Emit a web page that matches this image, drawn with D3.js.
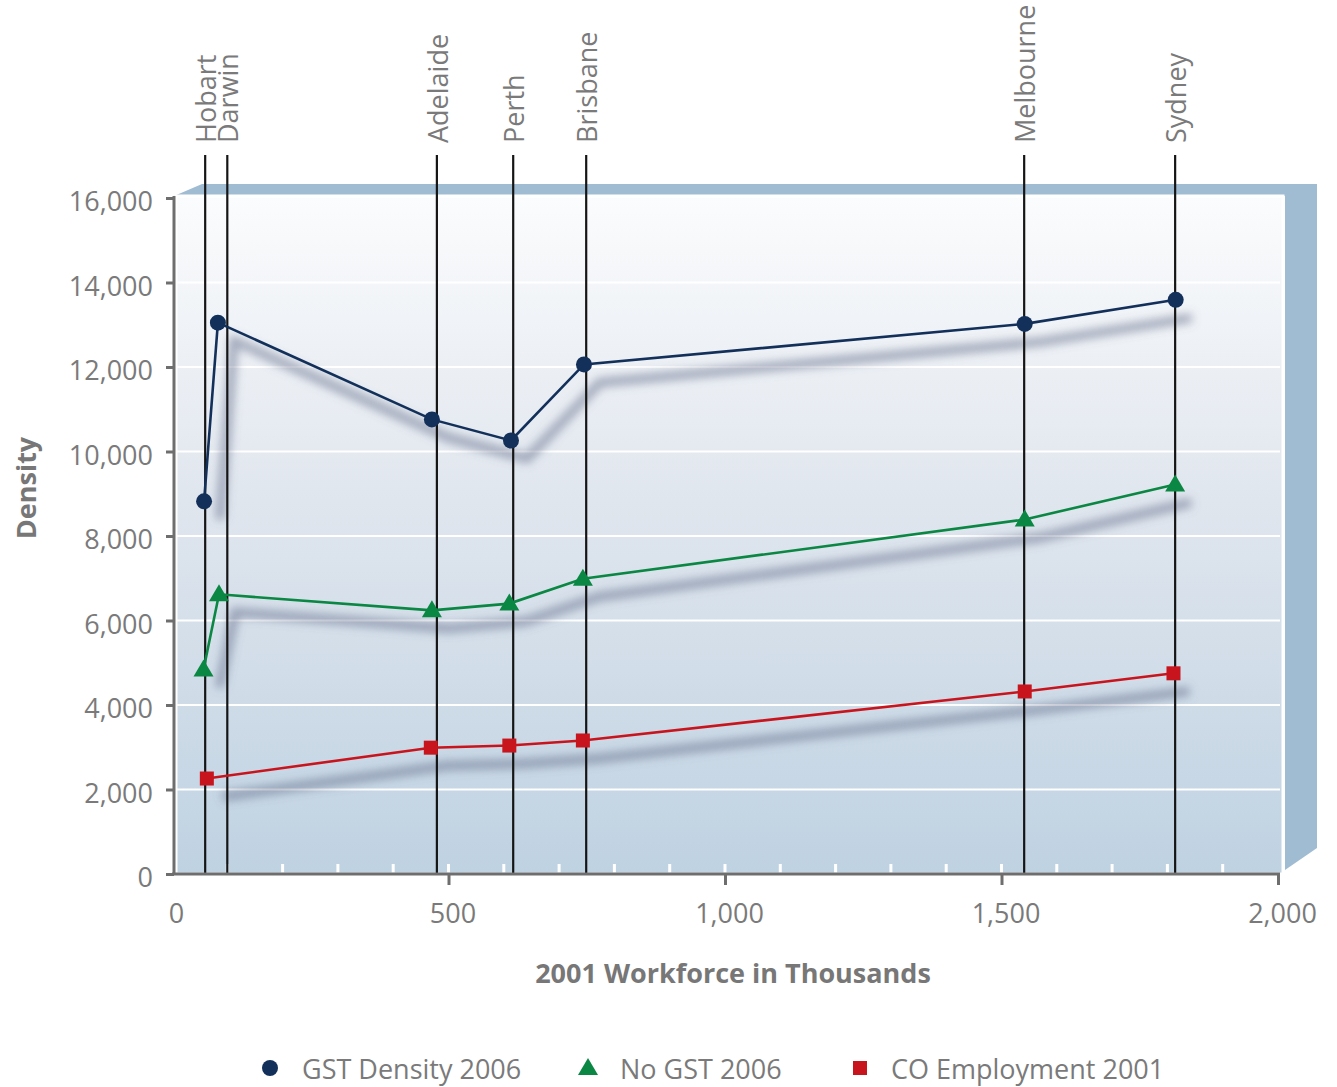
<!DOCTYPE html>
<html><head><meta charset="utf-8">
<script src="https://cdn.jsdelivr.net/npm/d3@7"></script>
<style>body{margin:0;background:#fff}svg{display:block}text{font-family:"Open Sans",Lato,sans-serif}</style>
</head><body><svg id="c" width="1337" height="1087"></svg>
<script>
const cities = ["Hobart","Darwin","Adelaide","Perth","Brisbane","Melbourne","Sydney"];
const cityX = [60, 100, 479, 617, 749, 1541, 1814];
const gstX = [58, 83, 470, 613, 745, 1542, 1815];
const gstY = [8820, 13050, 10760, 10260, 12060, 13020, 13590];
const noX = [57, 85, 470, 610, 743, 1542, 1814];
const noY = [4840, 6620, 6240, 6400, 6990, 8390, 9220];
const coX = [63, 468, 610, 743, 1542, 1811];
const coY = [2260, 2990, 3040, 3160, 4320, 4750];
const xTicks = [0, 500, 1000, 1500, 2000];
const yTicks = [0, 2000, 4000, 6000, 8000, 10000, 12000, 14000, 16000];
const legendLabels = ["GST Density 2006", "No GST 2006", "CO Employment 2001"];

const svg = d3.select("#c");
const x = d3.scaleLinear().domain([0, 2000]).range([172, 1278]);
const y = d3.scaleLinear().domain([0, 16000]).range([874, 198]);
const L = 176, R = 1283, T = 196, B = 874;

const defs = svg.append("defs");
const g = defs.append("linearGradient").attr("id","wall").attr("x1",0).attr("y1",0).attr("x2",0).attr("y2",1);
g.append("stop").attr("offset","0%").attr("stop-color","#fbfcfd");
g.append("stop").attr("offset","45%").attr("stop-color","#e0e6ee");
g.append("stop").attr("offset","100%").attr("stop-color","#bfd2e2");
defs.append("filter").attr("id","blur").attr("x","-20%").attr("y","-20%").attr("width","140%").attr("height","140%")
  .append("feGaussianBlur").attr("stdDeviation",5);

// 3D frame
svg.append("polygon").attr("points",[[174,T],[202,184],[1317,184],[1317,848],[R+2,870],[R+2,T]].map(p=>p.join(",")).join(" "))
  .attr("fill","#a0bcd3");
svg.append("rect").attr("x",L).attr("y",T).attr("width",R-L).attr("height",B-T).attr("fill","url(#wall)")
  .attr("stroke","#fff").attr("stroke-width",3);

// gridlines
svg.append("g").selectAll("line").data(yTicks.slice(1,-1)).join("line")
  .attr("x1",L).attr("x2",R-3).attr("y1",d=>y(d)).attr("y2",d=>y(d)).attr("stroke","#fff").attr("stroke-width",2);

// minor white ticks
svg.append("g").selectAll("line").data(d3.range(100,2000,100)).join("line")
  .attr("x1",d=>x(d)).attr("x2",d=>x(d)).attr("y1",B-10).attr("y2",B).attr("stroke","#fff").attr("stroke-width",3);

// shadows
const series = [
  {xs:gstX, ys:gstY, color:"#13305a", shape:"circle"},
  {xs:noX, ys:noY, color:"#0a8743", shape:"tri"},
  {xs:coX, ys:coY, color:"#c8151d", shape:"sq"}
];
const line = d3.line().x(d=>x(d[0])).y(d=>y(d[1]));
const sh = svg.append("g").attr("transform","translate(16,18)").attr("filter","url(#blur)");
series.forEach(s=>{
  sh.append("path").attr("d",line(d3.zip(s.xs,s.ys))).attr("fill","none")
    .attr("stroke","#5e6a86").attr("stroke-opacity",0.55).attr("stroke-width",9);
});

// city lines
svg.append("g").selectAll("line").data(cityX).join("line")
  .attr("x1",d=>x(d)).attr("x2",d=>x(d)).attr("y1",155).attr("y2",B).attr("stroke","#151515").attr("stroke-width",2.2);
svg.append("g").selectAll("text").data(cities).join("text")
  .attr("transform",(d,i)=>`translate(${x(cityX[i])+1},143) rotate(-90)`)
  .attr("text-anchor","start").attr("dy","0.36em").attr("font-size",27).attr("fill","#7a7a7a").text(d=>d);

// axes
const ya = svg.append("g").attr("transform",`translate(174,0)`)
  .call(d3.axisLeft(y).tickValues(yTicks).tickSize(8).tickPadding(13).tickFormat(d3.format(",")));
ya.select(".domain").attr("d",`M0,${T}V${B}`).attr("stroke","#6e6e6e").attr("stroke-width",3);
ya.selectAll(".tick line").attr("stroke","#6e6e6e").attr("stroke-width",3);
ya.selectAll(".tick text").attr("font-size",27).attr("fill","#7a7a7a").attr("dy","0.48em");

const xa = svg.append("g").attr("transform",`translate(0,${B})`)
  .call(d3.axisBottom(x).tickValues(xTicks).tickSize(11).tickPadding(19).tickFormat(d3.format(",")));
xa.select(".domain").attr("d",`M172,0H1280`).attr("stroke","#6e6e6e").attr("stroke-width",3);
xa.selectAll(".tick line").attr("stroke","#6e6e6e").attr("stroke-width",3).attr("opacity",d=>d===0?0:1);
xa.selectAll(".tick text").attr("font-size",27).attr("fill","#7a7a7a").attr("dx",4);
svg.selectAll(".domain").attr("fill","none");

// axis titles
svg.append("text").attr("transform","translate(27,488) rotate(-90)").attr("text-anchor","middle").attr("dy","0.35em")
  .attr("font-size",27).attr("font-weight","bold").attr("fill","#777").text("Density");
svg.append("text").attr("x",733).attr("y",983).attr("text-anchor","middle")
  .attr("font-size",27).attr("font-weight","bold").attr("fill","#777").text("2001 Workforce in Thousands");

// series
function marker(sel, shape, color, cx, cy){
  if(shape==="circle") sel.append("circle").attr("cx",cx).attr("cy",cy).attr("r",8).attr("fill",color);
  else if(shape==="tri") sel.append("path").attr("d",`M${cx},${cy-10}L${cx+10},${cy+7}L${cx-10},${cy+7}Z`).attr("fill",color);
  else sel.append("rect").attr("x",cx-7).attr("y",cy-7).attr("width",14).attr("height",14).attr("fill",color);
}
series.forEach(s=>{
  const pts = d3.zip(s.xs,s.ys);
  svg.append("path").attr("d",line(pts)).attr("fill","none").attr("stroke",s.color).attr("stroke-width",2.6);
  const mg = svg.append("g");
  pts.forEach(p=>marker(mg, s.shape, s.color, x(p[0]), y(p[1])));
});

// legend
const legX = [270, 588, 860], legTX = [302, 620, 891];
series.forEach((s,i)=>{
  const lg = svg.append("g");
  marker(lg, s.shape, s.color, legX[i], 1068);
  lg.append("text").attr("x",legTX[i]).attr("y",1069).attr("dy","0.36em").attr("font-size",27).attr("fill","#7a7a7a").text(legendLabels[i]);
});
</script></body></html>
